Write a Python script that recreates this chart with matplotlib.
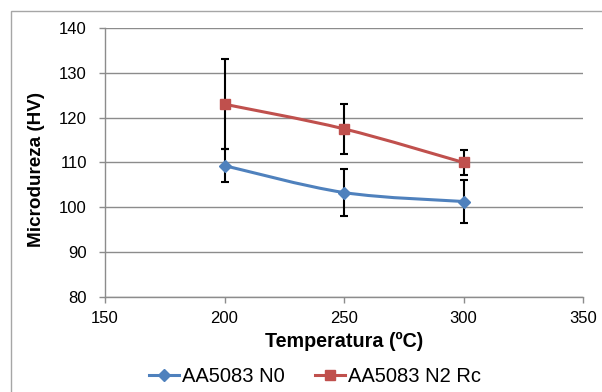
import matplotlib
matplotlib.use("Agg")
import matplotlib.pyplot as plt
import numpy as np
from matplotlib.path import Path
from matplotlib.patches import PathPatch, Rectangle
from matplotlib.lines import Line2D

plt.rcParams['font.family'] = ['Liberation Sans', 'DejaVu Sans']

# Data
temperatures = [200, 250, 300]
n0_hardness = [109.3, 103.3, 101.3]
n0_error = [3.65, 5.3, 4.75]
n2rc_hardness = [123.0, 117.5, 110.0]
n2rc_error = [10.0, 5.6, 2.75]
series_labels = ["AA5083 N0", "AA5083 N2 Rc"]
x_ticks = [150, 200, 250, 300, 350]
y_ticks = [80, 90, 100, 110, 120, 130, 140]

BLUE = "#4F81BD"
RED = "#C0504D"
GRID = "#8C8C8C"

W, H = 602, 392
fig = plt.figure(figsize=(W / 100, H / 100), dpi=100)
ax = fig.add_axes([105 / W, 1 - 297 / H, (583 - 105) / W, (297 - 28) / H])


def smooth_path(xs, ys):
    """Cubic Bezier path through the points (spreadsheet-style smoothing)."""
    pts = np.column_stack([xs, ys]).astype(float)
    n = len(pts)
    verts = [pts[0]]
    codes = [Path.MOVETO]
    for i in range(n - 1):
        p0 = pts[i - 1] if i > 0 else pts[i]
        p1 = pts[i]
        p2 = pts[i + 1]
        p3 = pts[i + 2] if i + 2 < n else pts[i + 1]
        c1 = p1 + (p2 - p0) / 6.0
        c2 = p2 - (p3 - p1) / 6.0
        verts += [c1, c2, p2]
        codes += [Path.CURVE4] * 3
    return Path(verts, codes)


for vals, errs, color, marker, ms in [
    (n0_hardness, n0_error, BLUE, "D", 6.5),
    (n2rc_hardness, n2rc_error, RED, "s", 7.5),
]:
    ax.errorbar(temperatures, vals, yerr=errs, fmt="none", ecolor="black",
                elinewidth=1.5, capsize=3, capthick=1.5, zorder=3)
    ax.add_patch(PathPatch(smooth_path(temperatures, vals), facecolor="none",
                           edgecolor=color, lw=2.2, zorder=4,
                           capstyle="round", joinstyle="round"))
    ax.plot(temperatures, vals, linestyle="none", marker=marker, ms=ms,
            color=color, zorder=5)

ax.set_xlim(150, 350)
ax.set_ylim(80, 140)
ax.set_xticks(x_ticks)
ax.set_yticks(y_ticks)
ax.grid(axis="y", color=GRID, lw=1.0)
ax.set_axisbelow(True)

for side in ["top", "right"]:
    ax.spines[side].set_visible(False)
for side in ["left", "bottom"]:
    ax.spines[side].set_color(GRID)
    ax.spines[side].set_linewidth(1.0)

ax.tick_params(axis="y", direction="out", length=4.5, width=1, color=GRID,
               labelsize=12, pad=8.5)
ax.tick_params(axis="x", direction="out", length=4, width=1, color=GRID,
               labelsize=12, pad=6)

ax.set_xlabel("Temperatura (ºC)", fontsize=14.2, fontweight="bold")
ax.set_ylabel("Microdureza (HV)", fontsize=13.6, fontweight="bold")
ax.xaxis.set_label_coords((344 - 105) / 478, (297 - 341) / 269)
ax.xaxis.label.set_va("center")
ax.yaxis.set_label_coords((37 - 105) / 478, (297 - 169) / 269)
ax.yaxis.label.set_va("center")

handles = [
    Line2D([], [], color=BLUE, lw=2.2, marker="D", ms=6.5),
    Line2D([], [], color=RED, lw=2.2, marker="s", ms=7.5),
]
fig.legend(handles, series_labels, loc="center", ncol=2,
           bbox_to_anchor=(315 / W, 1 - 377 / H), frameon=False,
           fontsize=14.5, handlelength=1.5, handletextpad=0.15,
           columnspacing=1.5, borderpad=0)

# Chart border
fig.add_artist(Rectangle((10.5 / W, -0.1), 2, 1 - 10.5 / H + 0.1,
                         transform=fig.transFigure, fill=False,
                         edgecolor="#A6A6A6", lw=1.0))

fig.savefig("out.png", dpi=100)
